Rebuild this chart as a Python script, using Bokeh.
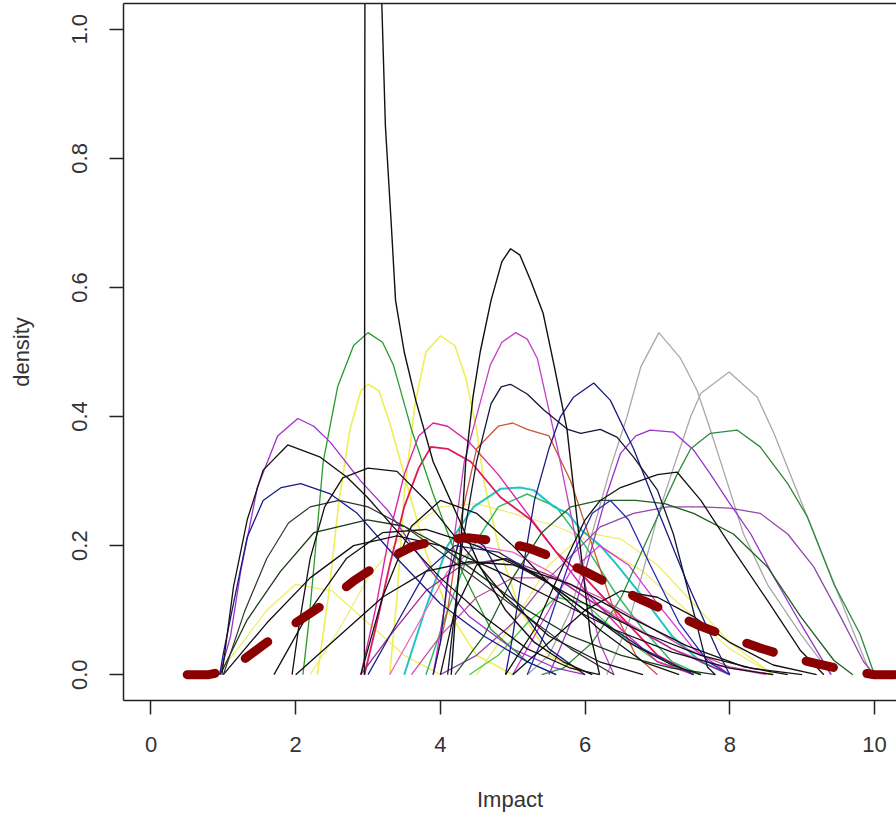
from bokeh.plotting import figure
from bokeh.models import LinearAxis, FixedTicker, Range1d, NumeralTickFormatter
from bokeh.embed import file_html
from bokeh.resources import INLINE

# ---------------- data ----------------
x_ticks = [0, 2, 4, 6, 8, 10]
y_ticks = [0.0, 0.2, 0.4, 0.6, 0.8, 1.0]

spike_x = [2.95, 2.952, 2.955, 2.96, 3.19, 3.24, 3.32, 3.38, 3.50, 3.66, 3.90, 4.24, 4.55, 4.9, 5.3, 5.7, 6.1]
spike_y = [0.0, 0.4, 0.9, 1.3, 1.04, 0.85, 0.70, 0.58, 0.50, 0.425, 0.33, 0.245, 0.167, 0.10, 0.05, 0.02, 0.0]

blk5_x = [4.15, 4.2, 4.28, 4.35, 4.45, 4.55, 4.7, 4.85, 4.97, 5.1, 5.25, 5.42, 5.57, 5.75, 5.91, 6.07, 6.2]
blk5_y = [0.0, 0.08, 0.2, 0.33, 0.43, 0.5, 0.58, 0.64, 0.66, 0.65, 0.61, 0.56, 0.48, 0.38, 0.22, 0.064, 0.0]

grn3_x = [2.1, 2.18, 2.27, 2.38, 2.58, 2.8, 3.0, 3.2, 3.35, 3.6, 3.9, 4.3, 4.7, 5.2, 5.6]
grn3_y = [0.0, 0.08, 0.19, 0.33, 0.446, 0.51, 0.53, 0.515, 0.48, 0.38, 0.28, 0.16, 0.07, 0.02, 0.0]

yel4_x = [3.3, 3.4, 3.5, 3.65, 3.8, 4.0, 4.2, 4.35, 4.5, 4.6, 4.8, 5.1, 5.5, 6.0]
yel4_y = [0.0, 0.12, 0.28, 0.42, 0.5, 0.525, 0.51, 0.46, 0.38, 0.30, 0.2, 0.1, 0.03, 0.0]

yel3_x = [2.3, 2.45, 2.6, 2.75, 2.9, 3.0, 3.15, 3.3, 3.45, 3.6, 3.8, 4.1, 4.5, 5.0]
yel3_y = [0.0, 0.12, 0.27, 0.38, 0.44, 0.45, 0.44, 0.39, 0.33, 0.27, 0.19, 0.1, 0.03, 0.0]

pur2_x = [0.95, 1.1, 1.24, 1.47, 1.75, 2.03, 2.25, 2.48, 2.9, 3.27, 3.8, 4.4, 5.0, 5.6, 6.0]
pur2_y = [0.0, 0.06, 0.16, 0.29, 0.37, 0.397, 0.385, 0.36, 0.30, 0.255, 0.17, 0.09, 0.04, 0.01, 0.0]

blk2_x = [0.98, 1.14, 1.33, 1.55, 1.89, 2.34, 2.71, 2.99, 3.5, 4.0, 4.6, 5.2, 5.8, 6.2]
blk2_y = [0.0, 0.136, 0.24, 0.317, 0.356, 0.337, 0.306, 0.275, 0.21, 0.15, 0.09, 0.04, 0.01, 0.0]

nav2_x = [0.95, 1.0, 1.14, 1.33, 1.55, 1.8, 2.07, 2.48, 2.85, 3.4, 4.0, 4.6, 5.2, 5.6]
nav2_y = [0.0, 0.033, 0.11, 0.213, 0.27, 0.29, 0.296, 0.28, 0.25, 0.18, 0.11, 0.06, 0.02, 0.0]

blk3_x = [1.95, 2.05, 2.2, 2.4, 2.65, 3.0, 3.4, 3.8, 4.3, 4.9, 5.5, 6.2, 6.8]
blk3_y = [0.0, 0.08, 0.18, 0.26, 0.305, 0.32, 0.315, 0.27, 0.2, 0.12, 0.06, 0.02, 0.0]

dkg3_x = [0.95, 1.0, 1.33, 1.79, 2.25, 2.99, 3.5, 4.0, 4.6, 5.2, 5.8, 6.5, 7.2, 7.8]
dkg3_y = [0.0, 0.01, 0.085, 0.16, 0.22, 0.24, 0.23, 0.2, 0.15, 0.1, 0.06, 0.03, 0.01, 0.0]

mag5_x = [3.9, 4.05, 4.2, 4.33, 4.51, 4.69, 4.85, 5.04, 5.2, 5.34, 5.48, 5.62, 5.8, 6.0, 6.2, 6.4]
mag5_y = [0.0, 0.1, 0.22, 0.33, 0.405, 0.48, 0.515, 0.53, 0.52, 0.49, 0.42, 0.35, 0.25, 0.14, 0.05, 0.0]

nav6_x = [4.9, 5.0, 5.15, 5.3, 5.5, 5.66, 5.84, 6.12, 6.35, 6.67, 7.04, 7.42, 7.83, 8.0]
nav6_y = [0.0, 0.06, 0.17, 0.27, 0.35, 0.40, 0.43, 0.452, 0.425, 0.35, 0.245, 0.14, 0.037, 0.0]

blk45_x = [4.1, 4.3, 4.5, 4.7, 4.84, 4.97, 5.2, 5.43, 5.76, 5.94, 6.21, 6.44, 6.67, 7.0, 7.22, 7.46, 7.69, 7.8]
blk45_y = [0.0, 0.2, 0.33, 0.42, 0.446, 0.45, 0.435, 0.41, 0.38, 0.374, 0.38, 0.368, 0.337, 0.286, 0.218, 0.115, 0.012, 0.0]

org5_x = [3.9, 4.1, 4.3, 4.5, 4.8, 5.0, 5.2, 5.5, 5.8, 6.1, 6.4, 6.7, 7.0]
org5_y = [0.0, 0.1, 0.25, 0.35, 0.385, 0.39, 0.38, 0.37, 0.3, 0.2, 0.1, 0.03, 0.0]

mag4_x = [2.9, 3.1, 3.3, 3.5, 3.7, 3.9, 4.1, 4.4, 4.8, 5.2, 5.6, 6.0, 6.5, 7.0, 7.5]
mag4_y = [0.0, 0.1, 0.22, 0.31, 0.37, 0.39, 0.385, 0.36, 0.31, 0.25, 0.19, 0.13, 0.07, 0.02, 0.0]

red4_x = [2.95, 3.1, 3.3, 3.5, 3.7, 3.87, 4.1, 4.42, 4.83, 5.25, 5.6, 6.0, 6.5, 7.0, 7.5]
red4_y = [0.0, 0.07, 0.17, 0.26, 0.32, 0.353, 0.35, 0.33, 0.275, 0.24, 0.19, 0.15, 0.09, 0.03, 0.0]

cyn5_x = [3.5, 3.77, 4.1, 4.46, 4.83, 5.1, 5.29, 5.57, 5.76, 5.94, 6.21, 6.44, 6.8, 7.2, 7.6, 8.0]
cyn5_y = [0.0, 0.094, 0.2, 0.26, 0.288, 0.29, 0.286, 0.26, 0.25, 0.225, 0.2, 0.17, 0.12, 0.06, 0.02, 0.0]

lgr5_x = [3.8, 4.1, 4.4, 4.8, 5.2, 5.6, 6.0, 6.4, 6.8, 7.2, 7.6]
lgr5_y = [0.0, 0.1, 0.19, 0.26, 0.28, 0.26, 0.2, 0.13, 0.07, 0.02, 0.0]

gry7_x = [5.2, 5.5, 5.8, 6.1, 6.35, 6.58, 6.77, 7.02, 7.32, 7.55, 7.73, 7.97, 8.19, 8.52, 8.98, 9.4]
gry7_y = [0.0, 0.03, 0.1, 0.22, 0.32, 0.40, 0.477, 0.53, 0.49, 0.44, 0.38, 0.296, 0.218, 0.14, 0.063, 0.0]

gry8_x = [6.3, 6.6, 6.8, 7.0, 7.22, 7.46, 7.6, 7.99, 8.38, 8.61, 8.98, 9.35, 9.72, 9.95]
gry8_y = [0.0, 0.08, 0.16, 0.245, 0.32, 0.40, 0.436, 0.469, 0.43, 0.374, 0.27, 0.167, 0.063, 0.0]

grn8_x = [5.4, 5.7, 6.1, 6.5, 6.9, 7.27, 7.46, 7.73, 8.1, 8.42, 8.8, 9.07, 9.44, 9.8, 10.0]
grn8_y = [0.0, 0.01, 0.05, 0.12, 0.22, 0.31, 0.35, 0.374, 0.379, 0.353, 0.296, 0.245, 0.14, 0.063, 0.0]

pur7_x = [5.5, 5.8, 6.1, 6.3, 6.49, 6.7, 6.9, 7.22, 7.5, 7.73, 7.97, 8.29, 8.61, 8.98, 9.4]
pur7_y = [0.0, 0.08, 0.2, 0.28, 0.343, 0.37, 0.379, 0.376, 0.348, 0.311, 0.27, 0.218, 0.151, 0.079, 0.0]

blk7_x = [4.9, 5.3, 5.7, 6.0, 6.21, 6.49, 7.0, 7.27, 7.6, 8.05, 8.52, 8.98, 9.3]
blk7_y = [0.0, 0.07, 0.17, 0.24, 0.27, 0.29, 0.31, 0.314, 0.27, 0.193, 0.115, 0.037, 0.0]

pur8_x = [4.0, 4.5, 5.0, 5.5, 6.21, 6.67, 7.14, 7.6, 8.0, 8.42, 8.8, 9.16, 9.53, 9.85, 10.0]
pur8_y = [0.0, 0.03, 0.08, 0.15, 0.229, 0.25, 0.26, 0.26, 0.258, 0.25, 0.218, 0.167, 0.09, 0.02, 0.0]

dkg7_x = [4.2, 4.6, 5.0, 5.4, 5.8, 6.2, 6.7, 7.1, 7.5, 8.05, 8.52, 8.98, 9.44, 9.7]
dkg7_y = [0.0, 0.06, 0.15, 0.22, 0.26, 0.27, 0.27, 0.265, 0.25, 0.218, 0.167, 0.09, 0.022, 0.0]

f1_x = [2.9, 3.2, 3.6, 4.0, 4.5, 5.0, 5.6, 6.2, 6.8, 7.3]
f1_y = [0.0, 0.12, 0.23, 0.27, 0.25, 0.2, 0.13, 0.07, 0.02, 0.0]
f2_x = [3.0, 3.4, 3.8, 4.2, 4.8, 5.4, 6.0, 6.8, 7.5]
f2_y = [0.0, 0.08, 0.16, 0.2, 0.19, 0.15, 0.1, 0.04, 0.0]
f3_x = [1.0, 1.6, 2.2, 2.8, 3.4, 4.0, 4.8, 5.6, 6.4, 7.2, 8.0, 8.6]
f3_y = [0.0, 0.08, 0.15, 0.2, 0.215, 0.2, 0.16, 0.115, 0.07, 0.035, 0.01, 0.0]
f4_x = [3.3, 3.7, 4.1, 4.5, 5.0, 5.5, 6.0, 6.6, 7.2, 7.8, 8.5]
f4_y = [0.0, 0.08, 0.16, 0.2, 0.19, 0.16, 0.12, 0.08, 0.04, 0.015, 0.0]
f5_x = [2.2, 2.6, 3.0, 3.5, 4.0, 4.5, 5.0, 5.6, 6.2, 6.8, 7.4, 8.0, 8.6]
f5_y = [0.0, 0.07, 0.15, 0.22, 0.26, 0.265, 0.25, 0.23, 0.2, 0.16, 0.1, 0.04, 0.0]
f6_x = [5.0, 5.4, 5.8, 6.2, 6.6, 7.0, 7.5, 8.0]
f6_y = [0.0, 0.08, 0.16, 0.2, 0.17, 0.11, 0.04, 0.0]
f7_x = [5.2, 5.5, 5.8, 6.1, 6.35, 6.6, 6.9, 7.3, 7.7, 8.0]
f7_y = [0.0, 0.08, 0.18, 0.25, 0.27, 0.24, 0.17, 0.08, 0.02, 0.0]
f8_x = [4.0, 4.2, 4.5, 4.9, 5.4, 6.0, 6.6, 7.2, 7.6]
f8_y = [0.0, 0.1, 0.17, 0.18, 0.15, 0.1, 0.05, 0.015, 0.0]
f9_x = [1.7, 2.2, 2.7, 3.2, 3.8, 4.5, 5.2, 6.0, 6.8, 7.6, 8.3, 9.0]
f9_y = [0.0, 0.1, 0.18, 0.22, 0.225, 0.2, 0.16, 0.11, 0.065, 0.03, 0.01, 0.0]
f10_x = [2.9, 3.3, 3.8, 4.3, 4.9, 5.6, 6.4, 7.2, 8.0]
f10_y = [0.0, 0.06, 0.13, 0.17, 0.18, 0.15, 0.09, 0.04, 0.0]
f11_x = [4.5, 5.0, 5.5, 6.0, 6.5, 7.0, 7.5, 8.0, 8.6]
f11_y = [0.0, 0.08, 0.17, 0.22, 0.21, 0.17, 0.11, 0.05, 0.0]
f12_x = [4.4, 4.8, 5.2, 5.6, 6.0, 6.5, 7.0, 7.6]
f12_y = [0.0, 0.03, 0.08, 0.12, 0.11, 0.06, 0.02, 0.0]
f13_x = [5.0, 5.5, 6.0, 6.5, 7.0, 7.5, 8.0, 8.6, 9.2]
f13_y = [0.0, 0.05, 0.1, 0.13, 0.12, 0.09, 0.05, 0.015, 0.0]
f14_x = [3.9, 4.0, 4.1, 4.3, 4.6, 5.0, 5.5, 6.0]
f14_y = [0.0, 0.05, 0.15, 0.22, 0.2, 0.12, 0.04, 0.0]
f15_x = [0.9, 1.2, 1.6, 2.0, 2.5, 3.0, 3.5, 4.0]
f15_y = [0.0, 0.04, 0.1, 0.14, 0.13, 0.08, 0.03, 0.0]
f16_x = [1.0, 1.3, 1.6, 1.9, 2.2, 2.6, 3.0, 3.5, 4.0, 4.6, 5.2, 5.8, 6.4]
f16_y = [0.0, 0.1, 0.18, 0.235, 0.26, 0.27, 0.26, 0.23, 0.19, 0.14, 0.09, 0.04, 0.0]
f17_x = [2.0, 2.6, 3.2, 3.8, 4.4, 5.0, 5.8, 6.6, 7.4, 8.2, 8.8]
f17_y = [0.0, 0.06, 0.12, 0.16, 0.175, 0.17, 0.14, 0.09, 0.045, 0.012, 0.0]
f18_x = [3.6, 4.0, 4.5, 5.0, 5.6, 6.2, 6.8, 7.4, 8.0, 8.6]
f18_y = [0.0, 0.06, 0.12, 0.15, 0.15, 0.12, 0.08, 0.04, 0.012, 0.0]

mean_x = [0.5, 0.8, 1.0, 1.3, 1.6, 2.0, 2.4, 2.8, 3.2, 3.6, 4.0, 4.4, 4.8, 5.2, 5.6, 6.0,
          6.4, 6.8, 7.2, 7.6, 8.0, 8.4, 8.8, 9.2, 9.6, 10.0, 10.4]
mean_y = [0.0, 0.0, 0.005, 0.025, 0.05, 0.08, 0.11, 0.145, 0.175, 0.198, 0.21, 0.212, 0.207,
          0.197, 0.18, 0.16, 0.137, 0.115, 0.095, 0.075, 0.058, 0.042, 0.028, 0.017, 0.007, 0.0, 0.0]

# (x, y, colour, width) in drawing order: pale colours first, black last
curves = [
    (f15_x, f15_y, "#eeee66", 1.3), (yel3_x, yel3_y, "#eeee55", 1.6), (yel4_x, yel4_y, "#eeee55", 1.6),
    (f5_x, f5_y, "#eeee77", 1.3), (f11_x, f11_y, "#eeee66", 1.3),
    (gry7_x, gry7_y, "#a8a8a8", 1.3), (gry8_x, gry8_y, "#a8a8a8", 1.3),
    (f12_x, f12_y, "#44cc44", 1.3), (lgr5_x, lgr5_y, "#33bb66", 1.5), (cyn5_x, cyn5_y, "#20c4c4", 2.0),
    (f4_x, f4_y, "#ee66cc", 1.3), (f6_x, f6_y, "#dd33dd", 1.3), (mag4_x, mag4_y, "#dd22aa", 1.4),
    (red4_x, red4_y, "#e0185c", 1.8), (org5_x, org5_y, "#cc5533", 1.3), (mag5_x, mag5_y, "#c040c8", 1.3),
    (pur2_x, pur2_y, "#a030cc", 1.3), (pur7_x, pur7_y, "#9932cc", 1.3), (pur8_x, pur8_y, "#904aa8", 1.3),
    (f10_x, f10_y, "#a02890", 1.3), (f18_x, f18_y, "#cc44aa", 1.2),
    (grn3_x, grn3_y, "#2a9a2a", 1.3), (grn8_x, grn8_y, "#2e8b3e", 1.3), (dkg7_x, dkg7_y, "#1e5e1e", 1.3),
    (dkg3_x, dkg3_y, "#1a3a1a", 1.3),
    (nav2_x, nav2_y, "#1a1a8c", 1.3), (nav6_x, nav6_y, "#1a1a80", 1.3), (f2_x, f2_y, "#20208a", 1.3),
    (f7_x, f7_y, "#2a2ab0", 1.3), (f14_x, f14_y, "#1a1a70", 1.3),
    (f1_x, f1_y, "#111111", 1.3), (f3_x, f3_y, "#111111", 1.3), (f8_x, f8_y, "#111111", 1.3),
    (f9_x, f9_y, "#111111", 1.3), (f13_x, f13_y, "#111111", 1.3), (f16_x, f16_y, "#333333", 1.2),
    (f17_x, f17_y, "#111111", 1.3),
    (blk2_x, blk2_y, "#111111", 1.3), (blk3_x, blk3_y, "#111111", 1.3), (blk7_x, blk7_y, "#111111", 1.3),
    (blk45_x, blk45_y, "#15153a", 1.3), (blk5_x, blk5_y, "#111111", 1.4), (spike_x, spike_y, "#111111", 1.4),
]

# ---------------- figure ----------------
FONT = "Liberation Sans"
TXT = "#333333"

p = figure(width=896, height=819, output_backend="svg", toolbar_location=None,
           x_range=Range1d(-0.380, 10.304), y_range=Range1d(-0.040, 1.040),
           min_border_left=123, min_border_right=0, min_border_top=3, min_border_bottom=119,
           x_axis_label="Impact", y_axis_label="density")
p.grid.visible = False
p.outline_line_color = None
p.background_fill_color = "white"
p.border_fill_color = "white"

for ax in (p.xaxis[0], p.yaxis[0]):
    ax.axis_line_color = "#222222"
    ax.axis_line_width = 1.5
    ax.major_tick_line_color = "#222222"
    ax.major_tick_line_width = 1.5
    ax.major_tick_out = 14
    ax.major_tick_in = 0
    ax.minor_tick_out = 0
    ax.minor_tick_in = 0
    ax.major_label_text_font = FONT
    ax.major_label_text_font_size = "22px"
    ax.major_label_text_color = TXT
    ax.axis_label_text_font = FONT
    ax.axis_label_text_font_size = "22px"
    ax.axis_label_text_color = TXT
    ax.axis_label_text_font_style = "normal"

p.xaxis[0].ticker = FixedTicker(ticks=x_ticks)
p.yaxis[0].ticker = FixedTicker(ticks=y_ticks)
p.yaxis[0].formatter = NumeralTickFormatter(format="0.0")
p.yaxis[0].major_label_orientation = "vertical"
p.xaxis[0].major_label_standoff = 22
p.xaxis[0].axis_label_standoff = 32
p.yaxis[0].major_label_standoff = 22
p.yaxis[0].axis_label_standoff = 36

top = LinearAxis(ticker=FixedTicker(ticks=[]), major_tick_out=0, major_tick_in=0,
                 minor_tick_out=0, minor_tick_in=0, major_label_text_font_size="0px",
                 major_label_standoff=0, axis_line_color="#222222", axis_line_width=1.5)
p.add_layout(top, "above")

for cx, cy, col, w in curves:
    p.line(cx, cy, line_color=col, line_width=w)

p.line(mean_x, mean_y, line_color="#8b0000", line_width=9, line_dash="28 34", line_cap="round")

open("out.html", "w").write(file_html(p, INLINE))
